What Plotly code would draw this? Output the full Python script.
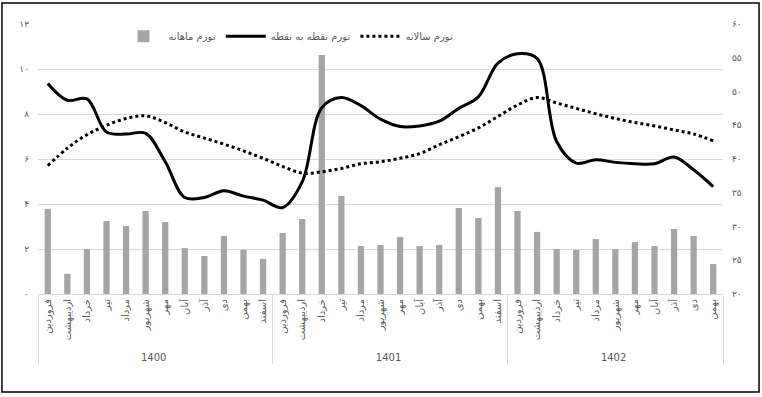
import plotly.graph_objects as go

months = ["فروردین", "اردیبهشت", "خرداد", "تیر", "مرداد", "شهریور",
          "مهر", "آبان", "آذر", "دی", "بهمن", "اسفند"]
years = ["1400"] * 12 + ["1401"] * 12 + ["1402"] * 11
month_labels = months + months + months[:11]

monthly = [3.78, 0.9, 2.0, 3.24, 3.02, 3.69, 3.2, 2.04, 1.69, 2.58, 1.96, 1.56,
           2.71, 3.33, 10.62, 4.36, 2.13, 2.18, 2.53, 2.13, 2.18, 3.82, 3.38, 4.75,
           3.69, 2.76, 2.0, 1.96, 2.44, 2.0, 2.31, 2.13, 2.89, 2.58, 1.33]
point_to_point = [51.2, 48.7, 48.9, 44.0, 43.7, 43.8, 39.6, 34.3, 34.3, 35.3, 34.5, 33.9,
                  32.8, 36.6, 47.6, 49.1, 47.9, 45.9, 44.8, 44.9, 45.6, 47.5, 49.2, 54.2,
                  55.6, 54.9, 42.6, 39.4, 39.9, 39.5, 39.3, 39.3, 40.3, 38.4, 35.9]
annual = [39.0, 41.6, 43.6, 45.0, 46.0, 46.4, 45.4, 44.0, 43.1, 42.2, 41.2, 40.1,
          38.9, 37.9, 38.1, 38.6, 39.3, 39.6, 40.1, 40.8, 42.1, 43.3, 44.6, 46.3,
          48.0, 49.1, 48.3, 47.5, 46.7, 46.0, 45.4, 44.9, 44.3, 43.7, 42.7]

left_ticks = [0, 2, 4, 6, 8, 10, 12]
left_text = ["۰", "۲", "۴", "۶", "۸", "۱۰", "۱۲"]
right_ticks = [20, 25, 30, 35, 40, 45, 50, 55, 60]
right_text = ["۲۰", "۲۵", "۳۰", "۳۵", "۴۰", "۴۵", "۵۰", "۵۵", "۶۰"]

names = ["تورم ماهانه", "تورم نقطه به نقطه", "تورم سالانه"]

FONT = "DejaVu Sans"
GREY = "#595959"
x = [years, month_labels]

fig = go.Figure()
fig.add_trace(go.Bar(x=x, y=monthly, name=names[0], marker_color="#a5a5a5",
                     marker_line_width=0, width=0.32, yaxis="y"))
fig.add_trace(go.Scatter(x=x, y=point_to_point, name=names[1], mode="lines",
                         line=dict(color="black", width=3, shape="spline", smoothing=1),
                         yaxis="y2"))
fig.add_trace(go.Scatter(x=x, y=annual, name=names[2], mode="lines",
                         line=dict(color="black", width=3, dash="dot", shape="spline", smoothing=1),
                         yaxis="y2"))

fig.update_layout(
    width=762, height=397,
    margin=dict(l=38, r=39, t=24, b=103),
    paper_bgcolor="white", plot_bgcolor="white",
    font=dict(family=FONT, size=9, color=GREY),
    showlegend=True,
    legend=dict(orientation="h", x=0.1175, xanchor="left", y=0.955, yanchor="middle",
                font=dict(family=FONT, size=10, color=GREY), bgcolor="rgba(0,0,0,0)",
                itemwidth=40, traceorder="normal"),
    xaxis=dict(type="multicategory", tickangle=-90, showgrid=False,
               showline=True, linecolor="#d9d9d9", linewidth=1,
               showdividers=True, dividercolor="#d9d9d9", dividerwidth=1,
               tickfont=dict(family=FONT, size=10, color=GREY), ticks=""),
    yaxis=dict(range=[0, 12], tickvals=left_ticks, ticktext=left_text,
               showgrid=True, gridcolor="#d9d9d9", gridwidth=1, zeroline=False,
               showline=False, ticks="", ticklabelstandoff=8,
               tickfont=dict(family=FONT, size=9, color=GREY)),
    yaxis2=dict(range=[20, 60], tickvals=right_ticks, ticktext=right_text,
                overlaying="y", side="right", showgrid=False, zeroline=False,
                showline=False, ticks="", ticklabelstandoff=8,
                tickfont=dict(family=FONT, size=9, color=GREY)),
    bargap=0.68,
)

fig.add_shape(type="rect", xref="paper", yref="paper",
              x0=-0.0526, x1=1.0526, y0=-0.363, y1=1.0778,
              line=dict(color="black", width=1.5), fillcolor="rgba(0,0,0,0)", layer="above")

fig.write_html("out.html", config={"displayModeBar": False},
               post_script="document.body.style.margin='0';document.body.style.padding='0';")
